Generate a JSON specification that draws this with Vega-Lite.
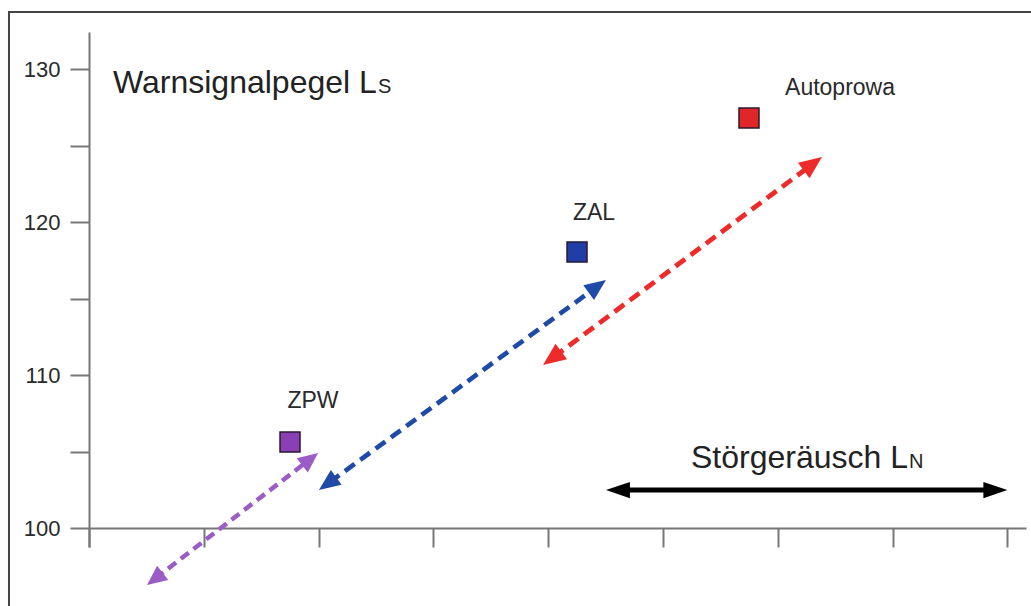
{
  "$schema": "https://vega.github.io/schema/vega-lite/v6.json",
  "width": 937,
  "height": 515,
  "autosize": {"type": "none"},
  "padding": {"left": 89, "top": 32, "right": 5, "bottom": 59},
  "background": "white",
  "config": {"view": {"stroke": null}, "font": "Liberation Sans"},
  "datasets": {
    "arrows": [
      {"series": "ZPW", "x": 0.579, "y": 96.71},
      {"series": "ZPW", "x": 1.921, "y": 104.47},
      {"series": "ZAL", "x": 2.096, "y": 102.99},
      {"series": "ZAL", "x": 4.411, "y": 115.70},
      {"series": "Autoprowa", "x": 4.047, "y": 111.17},
      {"series": "Autoprowa", "x": 6.293, "y": 123.73},
      {"series": "Störgeräusch", "x": 4.618, "y": 102.48},
      {"series": "Störgeräusch", "x": 7.885, "y": 102.48}
    ],
    "heads": [
      {"series": "ZPW", "x": 0.505, "y": 96.27, "angle": 232},
      {"series": "ZPW", "x": 1.995, "y": 104.90, "angle": 52},
      {"series": "ZAL", "x": 2.003, "y": 102.48, "angle": 233.8},
      {"series": "ZAL", "x": 4.503, "y": 116.21, "angle": 53.8},
      {"series": "Autoprowa", "x": 3.955, "y": 110.65, "angle": 233.3},
      {"series": "Autoprowa", "x": 6.385, "y": 124.25, "angle": 53.3},
      {"series": "Störgeräusch", "x": 4.503, "y": 102.48, "angle": 270},
      {"series": "Störgeräusch", "x": 8.0, "y": 102.48, "angle": 90}
    ],
    "points": [
      {"name": "ZPW", "x": 1.751, "y": 105.62, "lx": 1.951, "ly": 108.30},
      {"name": "ZAL", "x": 4.251, "y": 118.04, "lx": 4.399, "ly": 120.59},
      {"name": "Autoprowa", "x": 5.749, "y": 126.80, "lx": 6.542, "ly": 128.76}
    ],
    "titles": [
      {"main": "Warnsignalpegel L", "sub": "S", "x": 0.209, "sx": 2.517, "y": 128.45},
      {"main": "Störgeräusch L", "sub": "N", "x": 5.244, "sx": 7.143, "y": 103.92}
    ]
  },
  "layer": [
    {
      "data": {"values": [{}]},
      "mark": {"type": "rect", "fill": null, "stroke": "#444444", "strokeWidth": 2},
      "encoding": {
        "x": {"datum": -0.697, "type": "quantitative", "scale": {"domain": [0, 8.162], "nice": false, "zero": false},
          "axis": {"values": [0, 1, 2, 3, 4, 5, 6, 7, 8], "labels": false, "title": null, "grid": false, "tickSize": 19, "offset": -19, "domainColor": "#777777", "tickColor": "#777777", "domainWidth": 2, "tickWidth": 2}},
        "x2": {"datum": 9.5},
        "y": {"datum": 133.73, "type": "quantitative", "scale": {"domain": [98.76, 132.42], "nice": false, "zero": false},
          "axis": {"values": [100, 105, 110, 115, 120, 125, 130], "labelExpr": "datum.value % 10 === 0 ? datum.label : ''", "title": null, "grid": false, "tickSize": 19, "labelPadding": 10, "labelFontSize": 22, "labelColor": "#2a2a2a", "labelFont": "Liberation Sans", "domainColor": "#777777", "tickColor": "#777777", "domainWidth": 2, "tickWidth": 2}},
        "y2": {"datum": 85}
      }
    },
    {
      "data": {"name": "arrows"},
      "mark": {"type": "line", "strokeCap": "butt"},
      "encoding": {
        "x": {"field": "x", "type": "quantitative"},
        "y": {"field": "y", "type": "quantitative"},
        "color": {"field": "series", "type": "nominal", "legend": null,
          "scale": {"domain": ["ZPW", "ZAL", "Autoprowa", "Störgeräusch"], "range": ["#9a5cc6", "#1f4aa8", "#ee2b2b", "#000000"]}},
        "strokeDash": {"field": "series", "type": "nominal", "legend": null,
          "scale": {"domain": ["ZPW", "ZAL", "Autoprowa", "Störgeräusch"], "range": [[10, 6], [12, 7], [12, 7], [1, 0]]}},
        "strokeWidth": {"field": "series", "type": "nominal", "legend": null,
          "scale": {"domain": ["ZPW", "ZAL", "Autoprowa", "Störgeräusch"], "range": [4.5, 5, 4.5, 3]}}
      }
    },
    {
      "data": {"name": "heads"},
      "mark": {"type": "point", "filled": true, "opacity": 1, "strokeWidth": 0},
      "encoding": {
        "x": {"field": "x", "type": "quantitative"},
        "y": {"field": "y", "type": "quantitative"},
        "angle": {"field": "angle", "type": "quantitative", "scale": null},
        "color": {"field": "series", "type": "nominal", "legend": null},
        "shape": {"field": "series", "type": "nominal", "legend": null,
          "scale": {"domain": ["ZPW", "ZAL", "Autoprowa", "Störgeräusch"], "range": ["M0,0L0.9,2L-0.9,2Z", "M0,0L0.85,2L-0.85,2Z", "M0,0L0.85,2L-0.85,2Z", "M0,0L0.68,2L-0.68,2Z"]}},
        "size": {"field": "series", "type": "nominal", "legend": null,
          "scale": {"domain": ["ZPW", "ZAL", "Autoprowa", "Störgeräusch"], "range": [400, 576, 529, 484]}}
      }
    },
    {
      "data": {"name": "points"},
      "mark": {"type": "point", "shape": "square", "filled": true, "opacity": 1, "size": 400, "stroke": "#2a1a30", "strokeWidth": 1.5},
      "encoding": {
        "x": {"field": "x", "type": "quantitative"},
        "y": {"field": "y", "type": "quantitative"},
        "fill": {"field": "name", "type": "nominal", "legend": null,
          "scale": {"domain": ["ZPW", "ZAL", "Autoprowa"], "range": ["#8a3fb4", "#1f3fa6", "#e02626"]}}
      }
    },
    {
      "data": {"name": "points"},
      "mark": {"type": "text", "fontSize": 23, "color": "#2a2a2a", "align": "center", "baseline": "middle", "font": "Liberation Sans"},
      "encoding": {
        "x": {"field": "lx", "type": "quantitative"},
        "y": {"field": "ly", "type": "quantitative"},
        "text": {"field": "name"}
      }
    },
    {
      "data": {"name": "titles"},
      "mark": {"type": "text", "fontSize": 32, "color": "#222222", "align": "left", "baseline": "alphabetic", "font": "Liberation Sans"},
      "encoding": {
        "x": {"field": "x", "type": "quantitative"},
        "y": {"field": "y", "type": "quantitative"},
        "text": {"field": "main"}
      }
    },
    {
      "data": {"name": "titles"},
      "mark": {"type": "text", "fontSize": 20, "color": "#222222", "align": "left", "baseline": "alphabetic", "font": "Liberation Sans"},
      "encoding": {
        "x": {"field": "sx", "type": "quantitative"},
        "y": {"field": "y", "type": "quantitative"},
        "text": {"field": "sub"}
      }
    }
  ]
}
